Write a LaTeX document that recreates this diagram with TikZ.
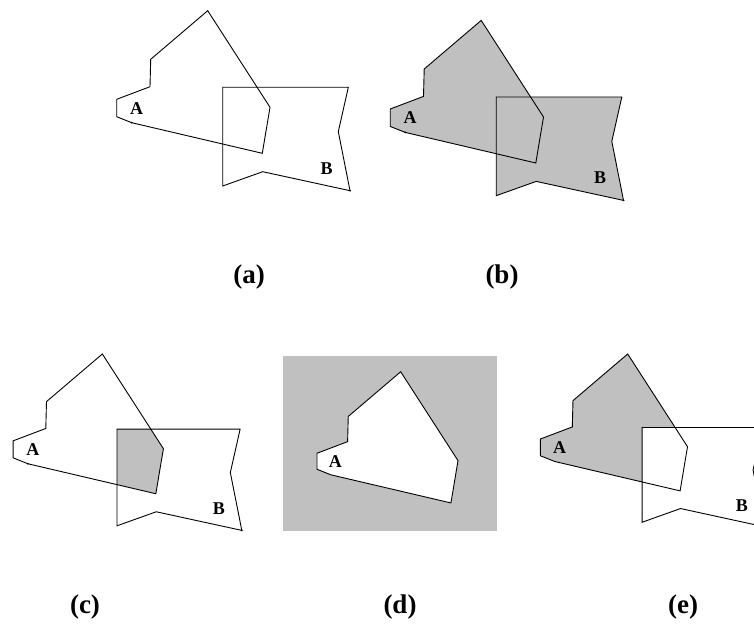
\documentclass[tikz,border=0pt]{standalone}
\usepackage{fontspec}
\setmainfont{Liberation Serif}
\usepackage{tikz}

\definecolor{polygray}{RGB}{192,192,192}
% the two polygons, drawn once in the frame of panel (a)
\newcommand{\polyA}{(207.7,10.7)--(270,107.3)--(262.3,153.3)--(131.7,122.7)--(116.7,116.7)--(116.7,99.3)--(150,86.7)--(150.7,59.3)--cycle}
\newcommand{\polyB}{(222.7,87.3)--(348.3,87.3)--(338.3,131.7)--(350,190.7)--(262.7,171.7)--(222.7,186)--cycle}
\tikzset{edge/.style={line width=.9pt,line join=miter},
  setname/.style={font=\fontsize{18}{20}\selectfont\bfseries},
  caption/.style={font=\fontsize{27}{30}\selectfont\bfseries}}

\begin{document}
\begin{tikzpicture}[x=1pt,y=-1pt]
	 \useasboundingbox(0,0)rectangle(754,628);
	 \clip(0,0)rectangle(754,628);
	 % (a)
	 \draw[edge]\polyA;
	 \draw[edge]\polyB;
	 \fill(131.7,122.7)circle(1pt);\fill(350,190.7)circle(1pt);
	 \node[setname](Aa)at(136.7,108.3){A};
	 \node[setname](Ba)at(326.7,168.3){B};
	 \node[caption](capa)at(249,277){(a)};
	 % (b)
	 \begin{scope}[shift={(273.5,9.7)}]
	 \fill[polygray]\polyA;\fill[polygray]\polyB;
	 \draw[edge]\polyA;
	 \draw[edge]\polyB;
	 \fill(131.7,122.7)circle(1pt);\fill(350,190.7)circle(1pt);
	 \node[setname](Ab)at(136.7,108.3){A};
	 \node[setname](Bb)at(326.7,168.3){B};
	 \end{scope}
	 \node[caption](capb)at(502,277){(b)};
	 % (c)
	 \begin{scope}[shift={(-101.2,343.5)},scale=.98]
	 \begin{scope}\clip\polyA;\fill[polygray]\polyB;\end{scope}
	 \draw[edge]\polyA;
	 \draw[edge]\polyB;
	 \fill(131.7,122.7)circle(1pt);\fill(350,190.7)circle(1pt);
	 \node[setname](Ac)at(136.7,108.3){A};
	 \node[setname](Bc)at(326.7,168.3){B};
	 \end{scope}
	 \node[caption](capc)at(85,607){(c)};
	 % (d)
	 \fill[polygray](282.7,356)rectangle(496.7,530.7);
	 \begin{scope}[shift={(209.6,361.9)},scale=.92]
	 \fill[white]\polyA;
	 \draw[edge]\polyA;
	 \node[setname](Ad)at(136.7,108.3){A};
	 \end{scope}
	 \node[caption](capd)at(400,607){(d)};
	 % (e)
	 \begin{scope}[shift={(428.3,343.7)},scale=.96]
	 \fill[polygray]\polyA;\fill[white]\polyB;
	 \draw[edge]\polyA;
	 \draw[edge]\polyB;
	 \node[setname](Ae)at(136.7,108.3){A};
	 \node[setname](Be)at(326.7,168.3){B};
	 \end{scope}
	 \node[caption](cape)at(683,607){(e)};
\end{tikzpicture}
\end{document}
